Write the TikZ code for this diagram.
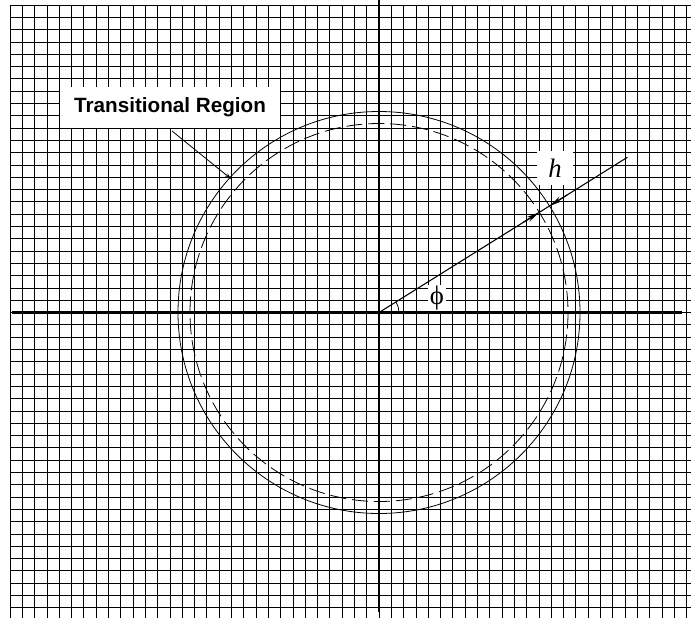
\documentclass[tikz,border=0pt]{standalone}
\usepackage{fontspec}
\setmainfont{Liberation Serif}
\newfontfamily\labelsans{Liberation Sans}
\usetikzlibrary{arrows.meta,calc}
\begin{document}
\begin{tikzpicture}[x=0.75pt,y=-0.75pt,
  gridline/.style={line width=0.6pt,black},
  axisline/.style={line width=1.8pt,black},
  circ/.style={line width=0.6pt},
  dimarrow/.style={line width=0.8pt,-{Stealth[length=10pt,width=4pt]}},
  lbl/.style={fill=white,inner sep=0pt}]
\useasboundingbox (0,0) rectangle (691,618);
\fill[white] (0,0) rectangle (691,618);
% grid
\foreach \k in {0,...,55} \draw[gridline] ({10+12.3*\k},5) -- ({10+12.3*\k},618);
\foreach \k in {0,...,49} \draw[gridline] (10,{5+12.3*\k}) -- (691,{5+12.3*\k});
% axes
\coordinate (O) at (379,312.5);
\coordinate (Ytop) at (379,0);
\coordinate (Ybot) at (379,612);
\coordinate (Xl) at (12,312.5);
\coordinate (Xr) at (682,312.5);
\draw[axisline] (Ytop) -- (Ybot);
\draw[axisline] (Xl) -- (Xr);
% circles
\draw[circ] (O) circle [radius=201];
\draw[circ,dash pattern=on 12pt off 4.5pt] (O) circle [radius=189];
% radial line
\coordinate (E) at ($(O)+(-32:293)$);
\coordinate (D) at ($(O)+(-32:189)$);
\coordinate (S) at ($(O)+(-32:201)$);
\coordinate (Din) at ($(O)+(-32:170)$);
\coordinate (Sout) at ($(O)+(-32:222)$);
\draw[line width=0.8pt] (O) -- (E);
\draw[dimarrow] (Din) -- (D);
\draw[dimarrow] (Sout) -- (S);
% angle arc
\draw[line width=0.6pt] ($(O)+(20,0)$) arc [start angle=0, end angle=-32, radius=20];
% labels
\node[lbl,minimum width=27pt,minimum height=26pt] (h) at (555,168) {\fontsize{20}{22}\selectfont\itshape h};
\node[lbl,minimum width=14pt,minimum height=19pt] (phi) at (437,298) {\fontsize{20}{22}\selectfont ϕ};
\node[lbl,minimum width=165pt,minimum height=31pt] (tr) at (170,107.5)
  {\labelsans\bfseries\fontsize{15.5}{17}\selectfont Transitional Region};
\coordinate (T) at ($(O)+(-137.9:199)$);
\draw[line width=0.6pt,-{Stealth[length=5pt,width=3pt]}] (172,131) -- (T);
\end{tikzpicture}
\end{document}
